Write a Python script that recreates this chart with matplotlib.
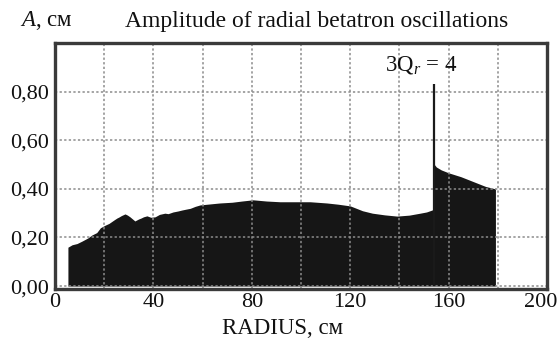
import numpy as np
import matplotlib.pyplot as plt
from matplotlib.ticker import MultipleLocator
from matplotlib.transforms import ScaledTranslation

plt.rcParams['font.family'] = ['Liberation Serif', 'DejaVu Serif']
plt.rcParams['mathtext.fontset'] = 'custom'
plt.rcParams['mathtext.rm'] = 'Liberation Serif'
plt.rcParams['mathtext.it'] = 'Liberation Serif:italic'

# upper envelope of the radial oscillation amplitude, cm vs radius, cm
radius = [5.3, 7, 9, 11, 13.4, 15, 17, 18.5, 20.3, 22, 23, 24, 25.2, 26, 27,
          28.5, 29.5, 30.5, 32.5, 34, 35, 36, 37.4, 39, 40.7, 42.5, 44.7, 46,
          48, 50, 51.6, 53, 55, 57, 59, 63, 67, 72, 76, 80.5, 86, 91.5,
          97, 103.7, 110.5, 115, 120, 125, 129, 134, 139, 144, 148.4, 151,
          152.4, 153.8, 154.2, 155, 157, 160, 165, 170, 175, 179]
amplitude = [0.16, 0.17, 0.175, 0.185, 0.198, 0.21, 0.22, 0.24, 0.25, 0.258,
             0.265, 0.272, 0.28, 0.284, 0.29, 0.297, 0.292, 0.285, 0.268,
             0.276, 0.28, 0.285, 0.289, 0.283, 0.285, 0.295, 0.30, 0.298,
             0.305, 0.309, 0.313, 0.316, 0.32, 0.328, 0.334, 0.338, 0.342,
             0.345, 0.35, 0.355, 0.35, 0.347, 0.347, 0.347, 0.342, 0.337,
             0.33, 0.31, 0.30, 0.293, 0.288, 0.292, 0.30, 0.305, 0.31, 0.315,
             0.50, 0.49, 0.478, 0.466, 0.45, 0.43, 0.41, 0.40]

# resonance 3Qr = 4
resonance_r = 154
resonance_amp = 0.83

yticks = [0.0, 0.2, 0.4, 0.6, 0.8]
ytick_labels = ["0,00", "0,20", "0,40", "0,60", "0,80"]
xticks = [0, 40, 80, 120, 160, 200]

fig = plt.figure(figsize=(5.6, 3.42), dpi=100)
ax = fig.add_axes([0.098, 0.155, 0.879, 0.719])

ax.fill_between(radius, 0, amplitude, color='#161616', lw=0, zorder=2)
ax.vlines(resonance_r, 0, resonance_amp, color='#1a1a1a', lw=1.6, zorder=3)

ax.set_xlim(0, 200)
ax.set_ylim(-0.012, 1.0)
ax.set_xticks(xticks)
ax.xaxis.set_minor_locator(MultipleLocator(20))
ax.set_yticks(yticks)
ax.set_yticklabels(ytick_labels)

grid_kw = dict(color='#8c8c8c', ls=(0, (1.5, 1.5)), lw=1.1, zorder=4)
ax.grid(which='both', axis='x', **grid_kw)
ax.grid(which='major', axis='y', **grid_kw)
ax.set_axisbelow(False)

ax.tick_params(which='both', length=0, labelsize=16, colors='#111111')
ax.tick_params(axis='y', pad=4)
ax.tick_params(axis='x', pad=3)

# keep the last radius label inside the figure
fig.canvas.draw()
last = ax.get_xticklabels()[-1]
last.set_transform(last.get_transform() + ScaledTranslation(-6 / 100, 0, fig.dpi_scale_trans))

for sp in ax.spines.values():
    sp.set_color('#3a3a3a')
    sp.set_linewidth(2.4)
    sp.set_zorder(5)

ax.text(149, 0.91, "3Q$_r$ = 4", fontsize=16.5, ha='center', va='center', color='#111111')

fig.text(20 / 560, 1 - 21 / 342, "$A$, см", fontsize=16.5, ha='left', va='center', color='#111111')
fig.text(125 / 560, 1 - 21 / 342, "Amplitude of radial betatron oscillations",
         fontsize=17, ha='left', va='center', color='#111111')
fig.text(282 / 560, 1 - 328 / 342, "RADIUS, см", fontsize=16.5, ha='center', va='center',
         color='#111111')

fig.savefig("out.png", dpi=100)
